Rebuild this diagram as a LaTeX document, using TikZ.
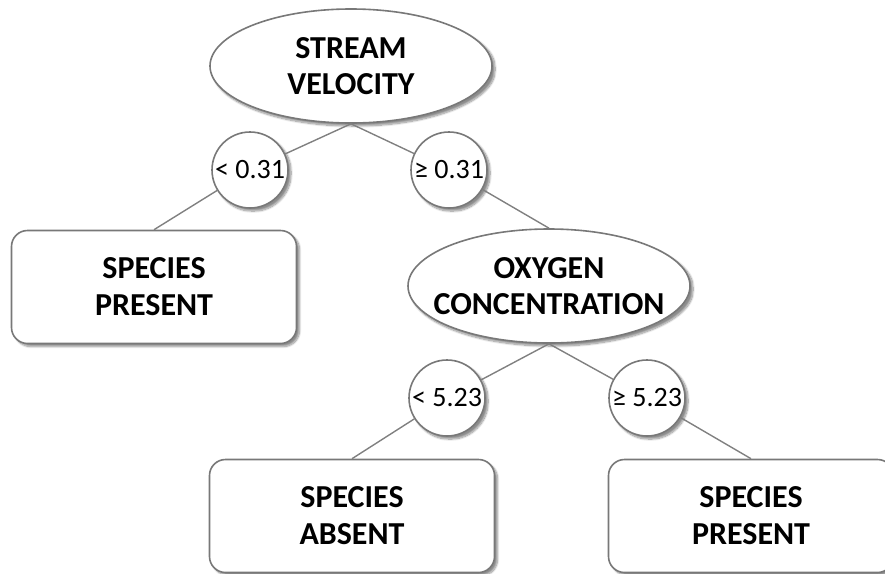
\documentclass[tikz,border=0pt]{standalone}
\usepackage{fontspec}
\setmainfont{Carlito}
\usetikzlibrary{shapes.geometric,shadows.blur}
\definecolor{edgegray}{RGB}{120,120,120}
\definecolor{linegray}{RGB}{128,128,128}
\tikzset{
  x=1pt,y=1pt,
  shad/.style={blur shadow={shadow xshift=3pt,shadow yshift=-3pt,shadow blur steps=10,shadow blur extra rounding=2pt,shadow opacity=45}},
  decision/.style={ellipse,draw=edgegray,line width=1.6pt,fill=white,shad,minimum width=282pt,minimum height=114pt,inner xsep=-30pt,inner ysep=0pt,align=center,font=\fontsize{32}{36}\selectfont\bfseries},
  leaf/.style={rectangle,rounded corners=16pt,draw=edgegray,line width=1.6pt,fill=white,shad,minimum width=285pt,minimum height=113pt,inner sep=0pt,align=center,font=\fontsize{32}{37}\selectfont\bfseries},
  cond/.style={circle,draw=edgegray,line width=1.6pt,fill=white,shad,minimum size=76pt,inner sep=0pt,font=\fontsize{28}{30}\selectfont},
  conn/.style={draw=linegray,line width=1.4pt}
}
\begin{document}
\begin{tikzpicture}
\useasboundingbox (0,0) rectangle (885,-573);
\node[decision] (root) at (351,-66) {STREAM\\VELOCITY};
\node[cond] (c1) at (250,-170) {< 0.31};
\node[cond] (c2) at (449,-170) {≥ 0.31};
\node[decision] (oxy) at (549,-286) {OXYGEN\\CONCENTRATION};
\node[leaf] (p1) at (154,-287) {SPECIES\\PRESENT};
\node[cond] (c3) at (447,-398) {< 5.23};
\node[cond] (c4) at (647,-398) {≥ 5.23};
\node[leaf] (a1) at (352,-516) {SPECIES\\ABSENT};
\node[leaf] (p2) at (751,-516) {SPECIES\\PRESENT};
\draw[conn] (root.south) -- (c1);
\draw[conn] (root.south) -- (c2);
\draw[conn] (c1) -- (p1.north);
\draw[conn] (c2) -- (oxy.north);
\draw[conn] (oxy.south) -- (c3);
\draw[conn] (oxy.south) -- (c4);
\draw[conn] (c3) -- (a1.north);
\draw[conn] (c4) -- (p2.north);
\end{tikzpicture}
\end{document}
